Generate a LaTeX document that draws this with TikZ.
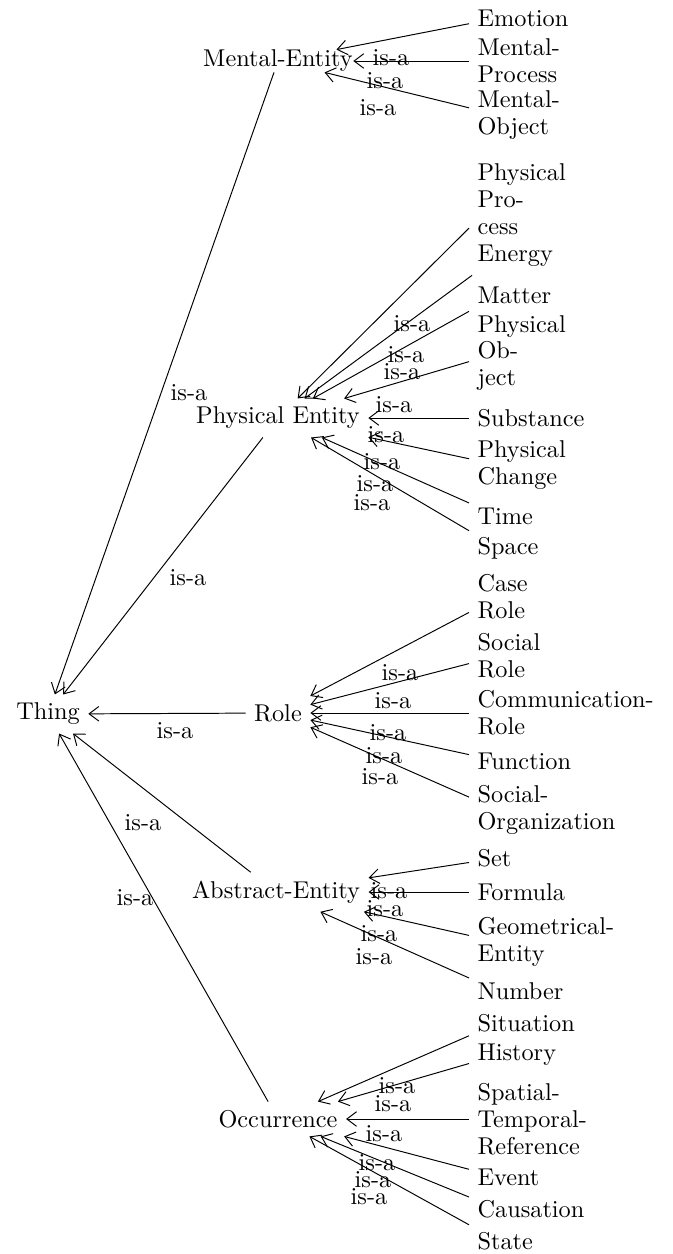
\documentclass[tikz,border=0pt]{standalone}
\usepackage{amsmath}
\usepackage{tikz}
\usetikzlibrary{arrows.meta}
\tikzset{
  >={Straight Barb[length=4pt,width=6pt]},
  cls/.style={inner sep=3.33pt},
  leaf/.style={anchor=west, text width=0.6cm, align=left, inner sep=3.33pt, font=\fontsize{10}{11}\selectfont},
  tr/.style={->, line width=0.4pt},
  lbl/.style={inner sep=0pt}
}
\begin{document}
\begin{tikzpicture}[x=0.4115pt, y=-0.4115pt]
    \useasboundingbox (0,0) rectangle (673,1254);

    % Root and classes
    \node[cls] (thing) at (48,714) {Thing};
    \node[cls, inner sep=0pt] (mental) at (278,61) {Mental-Entity};
    \node[cls] (physical) at (278,418) {Physical Entity};
    \node[cls] (role) at (278,713) {Role};
    \node[cls] (abstract) at (276,892) {Abstract-Entity};
    \node[cls] (occ) at (278,1119) {Occurrence};

    % Leaves
    \foreach \name/\ypos/\txt in {emotion/18/Emotion, mproc/61/Mental-Process, mobj/115/Mental-Object,
        pproc/199/Physical Process, energy/256/Energy, matter/295/Matter, pobj/353/Physical Object,
        subst/418/Substance, pchange/465/Physical Change, time/516/Time, space/548/Space,
        caserole/597/Case Role, socrole/656/Social Role, commrole/713/Communication-Role,
        func/761/Function, socorg/810/Social-Organization,
        set/858/Set, formula/892/Formula, geoent/942/Geometrical-Entity, number/991/Number,
        situation/1023/Situation, history/1055/History, spt/1119/Spatial-Temporal-Reference,
        event/1177/Event, causation/1209/Causation, state/1241/State} {
        \node[leaf] (\name) at (469,\ypos) {\txt};
    }

    % is-a edges
    \foreach \c in {emotion,mproc,mobj} \draw[tr] (\c) -- (mental);
    \foreach \c in {pproc,energy,matter,pobj,subst,pchange,time,space} \draw[tr] (\c) -- (physical);
    \foreach \c in {caserole,socrole,commrole,func,socorg} \draw[tr] (\c) -- (role);
    \foreach \c in {set,formula,geoent,number} \draw[tr] (\c) -- (abstract);
    \foreach \c in {situation,history,spt,event,causation,state} \draw[tr] (\c) -- (occ);
    \foreach \c in {mental,physical,role,abstract,occ} \draw[tr] (\c) -- (thing);

    % Labels
    \foreach \x/\y [count=\i] in {189/393, 188/578, 175/731, 143/823, 135/898,
        391/58, 385/81, 378/108,
        412/324, 406/355, 402/372, 394/405, 386/435, 382/462, 375/484, 372/503,
        400/673, 393/701, 388/733, 384/756, 380/777,
        389/891, 385/909, 379/934, 374/957,
        397/1086, 393/1104, 384/1134, 377/1163, 373/1180, 369/1197} {
        \node[lbl] (isa\i) at (\x,\y) {is-a};
    }
\end{tikzpicture}
\end{document}
